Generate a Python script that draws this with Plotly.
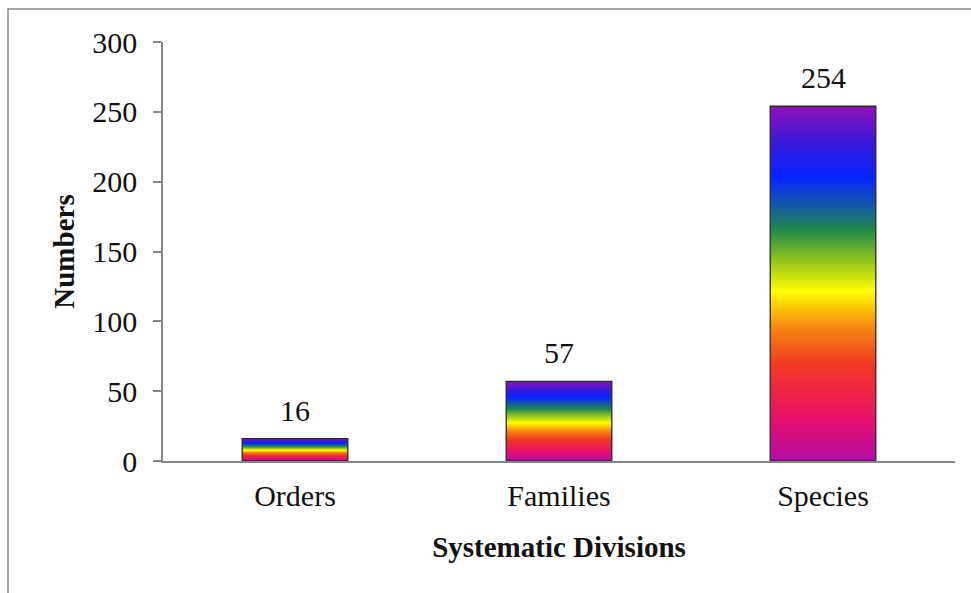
import plotly.graph_objects as go

categories = ["Orders", "Families", "Species"]
values = [16, 57, 254]
y_ticks = [0, 50, 100, 150, 200, 250, 300]

rainbow = [
    [0.00, "#b40ca8"],
    [0.12, "#e8106a"],
    [0.27, "#f03822"],
    [0.38, "#f78a12"],
    [0.48, "#ffff00"],
    [0.57, "#8cc020"],
    [0.65, "#208a48"],
    [0.72, "#1458a8"],
    [0.80, "#0424ff"],
    [0.90, "#3a18d8"],
    [1.00, "#9010b8"],
]

FONT = "Liberation Serif, Times New Roman, serif"
SIZE = 30
half = 0.2

fig = go.Figure()
for i, (cat, v) in enumerate(zip(categories, values)):
    fig.add_trace(go.Scatter(
        x=[i - half, i + half, i + half, i - half, i - half],
        y=[0, 0, v, v, 0],
        mode="lines",
        fill="toself",
        fillgradient=dict(type="vertical", colorscale=rainbow, start=0, stop=v),
        line=dict(color="#2a2a2a", width=1.3),
        hoverinfo="skip",
        showlegend=False,
    ))

annotations = [
    dict(x=i, y=v, xref="x", yref="y", text=str(v), showarrow=False,
         yanchor="bottom", yshift=10,
         font=dict(family=FONT, size=SIZE, color="#111"))
    for i, v in enumerate(values)
]

fig.update_layout(
    width=971, height=593,
    margin=dict(l=163, r=16, t=42, b=132),
    paper_bgcolor="white", plot_bgcolor="white",
    font=dict(family=FONT, size=SIZE, color="#111"),
    annotations=annotations,
    xaxis=dict(
        range=[-0.5, 2.5],
        tickvals=list(range(len(categories))),
        ticktext=categories,
        showline=True, linecolor="#868686", linewidth=1.5,
        ticks="", showgrid=False, zeroline=False,
        ticklabelstandoff=7,
        tickfont=dict(family=FONT, size=SIZE, color="#111"),
        title=dict(text="<b>Systematic Divisions</b>", standoff=26,
                   font=dict(family=FONT, size=SIZE - 1, color="#111")),
    ),
    yaxis=dict(
        range=[0, 300],
        tickvals=y_ticks,
        showline=True, linecolor="#868686", linewidth=1.5,
        ticks="outside", ticklen=8, tickcolor="#868686", tickwidth=1.5,
        showgrid=False, zeroline=False,
        ticklabelstandoff=10,
        tickfont=dict(family=FONT, size=SIZE, color="#111"),
        title=dict(text="<b>Numbers</b>", standoff=9,
                   font=dict(family=FONT, size=SIZE - 1, color="#111")),
    ),
    shapes=[
        dict(type="rect", xref="paper", yref="paper",
             x0=-0.1957, x1=1.3, y0=-0.6, y1=1.0788,
             line=dict(color="#8a8a8a", width=1.5), fillcolor="rgba(0,0,0,0)",
             layer="below"),
    ],
)

fig.write_html("out.html")
